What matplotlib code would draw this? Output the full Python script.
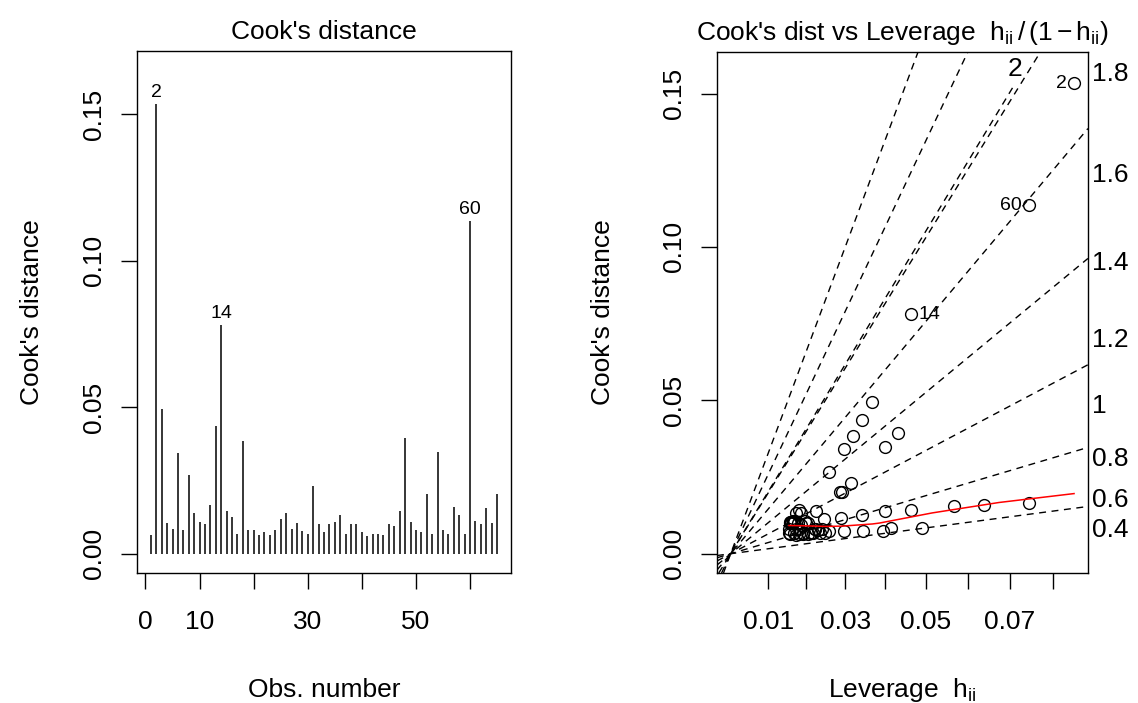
import numpy as np
import matplotlib
matplotlib.use("Agg")
import matplotlib.pyplot as plt

plt.rcParams['font.family'] = ['Liberation Sans', 'DejaVu Sans']
plt.rcParams['mathtext.fontset'] = 'custom'
plt.rcParams['mathtext.rm'] = 'Liberation Sans'
plt.rcParams['mathtext.it'] = 'Liberation Sans:italic'
plt.rcParams['mathtext.default'] = 'regular'

# Cook's distance per observation (obs 1..65)
cook = [0.0063, 0.1534, 0.0495, 0.0103, 0.0085, 0.0342, 0.0080, 0.0267, 0.0138, 0.0107,
        0.0101, 0.0165, 0.0435, 0.0781, 0.0144, 0.0126, 0.0068, 0.0384, 0.0080, 0.0080,
        0.0063, 0.0074, 0.0063, 0.0080, 0.0118, 0.0138, 0.0084, 0.0103, 0.0077, 0.0068,
        0.0231, 0.0101, 0.0074, 0.0101, 0.0108, 0.0132, 0.0068, 0.0101, 0.0101, 0.0073,
        0.0061, 0.0067, 0.0067, 0.0065, 0.0102, 0.0094, 0.0144, 0.0395, 0.0107, 0.0080,
        0.0073, 0.0202, 0.0068, 0.0347, 0.0080, 0.0066, 0.0159, 0.0132, 0.0068, 0.1136,
        0.0113, 0.0101, 0.0156, 0.0103, 0.0202]

# leverage h_ii per observation
hii = [0.0156, 0.0847, 0.0367, 0.0169, 0.0415, 0.0295, 0.0182, 0.0257, 0.0225, 0.0195,
       0.0161, 0.0744, 0.0342, 0.0464, 0.0182, 0.0342, 0.0213, 0.0318, 0.0154, 0.0174,
       0.0190, 0.0393, 0.0205, 0.0221, 0.0289, 0.0398, 0.0490, 0.0159, 0.0229, 0.0167,
       0.0315, 0.0177, 0.0343, 0.0203, 0.0164, 0.0185, 0.0236, 0.0156, 0.0198, 0.0297,
       0.0172, 0.0211, 0.0249, 0.0180, 0.0159, 0.0187, 0.0463, 0.0432, 0.0169, 0.0223,
       0.0259, 0.0292, 0.0192, 0.0398, 0.0239, 0.0154, 0.0639, 0.0174, 0.0216, 0.0744,
       0.0246, 0.0164, 0.0568, 0.0156, 0.0285]

# red smoother (x in h/(1-h) units)
smooth_g = [0.0157, 0.0200, 0.0258, 0.0300, 0.0382, 0.0401, 0.0543, 0.0723, 0.0925]
smooth_cook = [0.0092, 0.0091, 0.0089, 0.0090, 0.0097, 0.0100, 0.0133, 0.0167, 0.0196]

labelled = [2, 14, 60]
n_coef = 2
bvals = [0.4, 0.6, 0.8, 1.0, 1.2, 1.4, 1.6, 1.8, 2.0]
athat = [0.01, 0.02, 0.03, 0.04, 0.05, 0.06, 0.07, 0.08]
athat_labels = ['0.01', '', '0.03', '', '0.05', '', '0.07', '']
obs_ticks = [0, 10, 20, 30, 40, 50, 60]
obs_labels = ['0', '10', '', '30', '', '50', '']
yticks = [0.0, 0.05, 0.10, 0.15]

FS = 19
FS_SMALL = 14


def style_axes(ax):
    for sp in ax.spines.values():
        sp.set_linewidth(1.0)
        sp.set_color('black')
    ax.tick_params(length=11.5, width=1.0, labelsize=FS, direction='out')
    ax.tick_params(axis='x', pad=15)
    ax.tick_params(axis='y', pad=11)
    ax.set_yticks(yticks)
    ax.set_yticklabels(['%.2f' % v for v in yticks])
    for lab in ax.get_yticklabels():
        lab.set_rotation(90)
        lab.set_va('center')
        lab.set_ha('right')


cook = np.array(cook)
hii = np.array(hii)
obs = np.arange(1, len(cook) + 1)

fig = plt.figure(figsize=(11.38, 7.03), dpi=100)
ax1 = fig.add_axes([0.1204, 0.1849, 0.3286, 0.7425])
ax2 = fig.add_axes([0.6300, 0.1849, 0.3260, 0.7411])

# ---- left: Cook's distance index plot
ax1.vlines(obs, 0, cook, color='black', lw=1.1)
ymx = cook.max() * 1.075
ax1.set_xlim(1 - 0.04 * (len(cook) - 1), len(cook) + 0.04 * (len(cook) - 1))
ax1.set_ylim(-0.04 * ymx, 1.04 * ymx)
style_axes(ax1)
ax1.set_xticks(obs_ticks)
ax1.set_xticklabels(obs_labels)
for i in labelled:
    ax1.annotate(str(i), (i, cook[i - 1]), xytext=(0, 2), textcoords='offset points',
                 ha='center', va='bottom', fontsize=FS_SMALL)
ax1.set_title("Cook's distance", fontsize=FS, pad=9)
ax1.set_xlabel("Obs. number", fontsize=FS)
ax1.set_ylabel("Cook's distance", fontsize=FS)
ax1.xaxis.set_label_coords(0.5, -0.225)
ax1.yaxis.set_label_coords(-0.281, 0.5)
ax1.xaxis.label.set_va('center')
ax1.yaxis.label.set_va('center')

# ---- right: Cook's distance vs leverage h/(1-h)
g = hii / (1 - hii)
ymx2 = cook.max() * 1.025
ax2.set_xlim(-0.04 * g.max(), 1.04 * g.max())
ax2.set_ylim(-0.04 * ymx2, 1.04 * ymx2)
ax2.plot(g, cook, 'o', mfc='none', mec='black', ms=8.5, mew=1.0, zorder=3)
ax2.plot(smooth_g, smooth_cook, color='red', lw=1.1, zorder=4)

xmax = ax2.get_xlim()[1]
ymax = ax2.get_ylim()[1]
sh = 0.007
for b in bvals:
    bi2 = b * b
    lab = '%g' % b
    if n_coef * ymax > bi2 * xmax:
        xi = xmax + 0.0003
        yi = bi2 * xi / n_coef
        ax2.axline((0, 0), slope=bi2, color='black', lw=1.0, ls=(0, (5, 4)), zorder=2)
        ax2.annotate(lab, (xi, yi), xytext=(2, 0), textcoords='offset points',
                     ha='left', va='center', fontsize=FS, annotation_clip=False)
    else:
        yi = ymax - 1.5 * sh
        xi = n_coef * yi / bi2
        ax2.plot([0, xi], [0, yi], color='black', lw=1.0, ls=(0, (5, 4)), zorder=2)
        ax2.text(xi, ymax - 0.8 * sh, lab, ha='center', va='center', fontsize=FS, clip_on=False)

style_axes(ax2)
at = np.array(athat)
ax2.set_xticks(at / (1 - at))
ax2.set_xticklabels(athat_labels)
for i in labelled:
    if i == 14:
        ax2.annotate(str(i), (g[i - 1], cook[i - 1]), xytext=(5, 0), textcoords='offset points',
                     ha='left', va='center', fontsize=FS_SMALL)
    else:
        ax2.annotate(str(i), (g[i - 1], cook[i - 1]), xytext=(-5, 0), textcoords='offset points',
                     ha='right', va='center', fontsize=FS_SMALL)
ax2.set_title(r"Cook's dist vs Leverage  $h_{ii}\,/\,(1-h_{ii})$", fontsize=FS, pad=9)
ax2.set_xlabel(r"Leverage  $h_{ii}$", fontsize=FS)
ax2.set_ylabel("Cook's distance", fontsize=FS)
ax2.xaxis.set_label_coords(0.5, -0.225)
ax2.yaxis.set_label_coords(-0.307, 0.5)
ax2.xaxis.label.set_va('center')
ax2.yaxis.label.set_va('center')

fig.savefig("out.png", dpi=100)
